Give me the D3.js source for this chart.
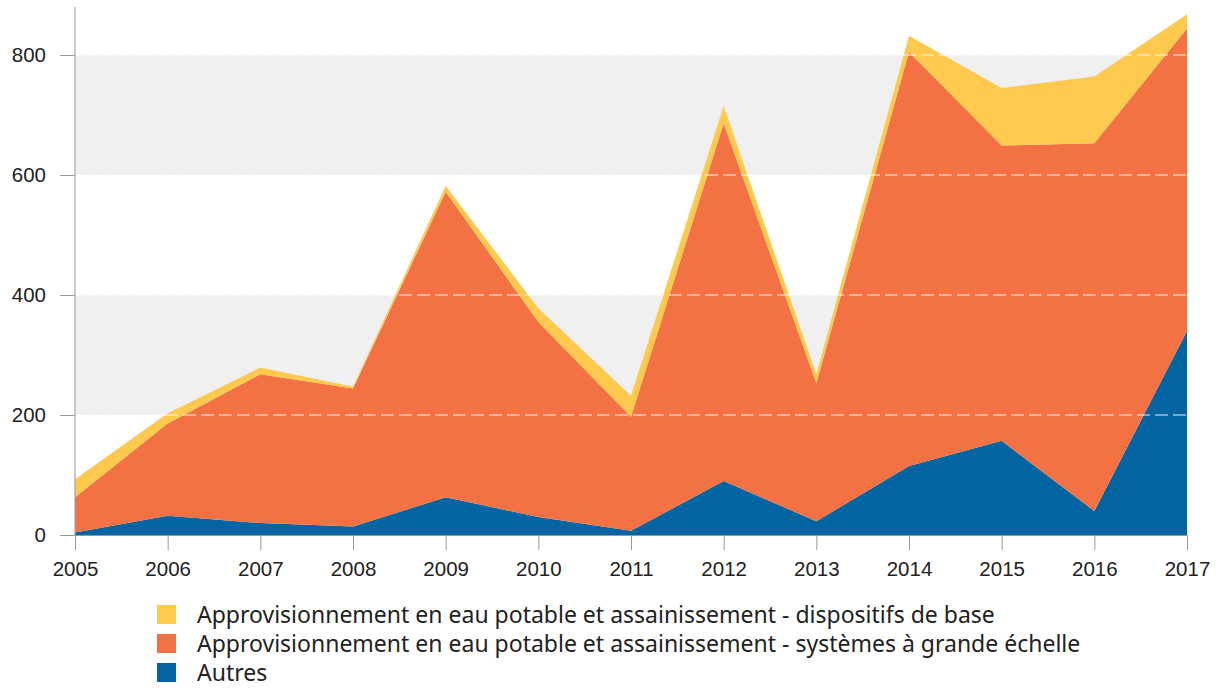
<!DOCTYPE html>
<html>
<head>
<meta charset="UTF-8">
<title>Approvisionnement en eau</title>
<script src="https://cdn.jsdelivr.net/npm/d3@7"></script>
<style>
    body { margin: 0; padding: 0; background: #fff; }
    svg { display: block; font-family: "Noto Sans", "Liberation Sans", Arial, sans-serif; }
</style>
</head>
<body>
<div id="chart"></div>
<script>
// data
var years = [2005, 2006, 2007, 2008, 2009, 2010, 2011, 2012, 2013, 2014, 2015, 2016, 2017];
var autres = [4, 32, 20, 14, 63, 30, 7, 90, 23, 115, 157, 40, 340];
var grandeEchelle = [59, 154, 248, 230, 509, 325, 190, 596, 230, 690, 492, 613, 504];
var dispositifsBase = [30, 17, 11, 3, 10, 23, 35, 29, 15, 27, 96, 111, 24];
var yTicks = [0, 200, 400, 600, 800];
var seriesNames = [
    "Approvisionnement en eau potable et assainissement - dispositifs de base",
    "Approvisionnement en eau potable et assainissement - systèmes à grande échelle",
    "Autres"
];

var colors = {autres: "#0265a1", grande: "#f37142", base: "#ffc94d"};

var svgWidth = 1218, svgHeight = 688;
var svg = d3.select('#chart').append('svg')
    .attr('width', svgWidth)
    .attr('height', svgHeight);

// scales
var x = d3.scaleLinear().domain([2005, 2017]).range([75, 1187]);
var y = d3.scaleLinear().domain([0, 880]).range([535, 7]);

// rows for the stack
var rows = years.map((yr, i) => ({
    year: yr,
    autres: autres[i],
    grande: grandeEchelle[i],
    base: dispositifsBase[i]
}));
var stack = d3.stack().keys(['autres', 'grande', 'base']);
var layers = stack(rows);

// grey bands behind
var bands = [[200, 400], [600, 800]];
svg.append('g').selectAll('rect')
    .data(bands)
    .join('rect')
    .attr('x', x(2005))
    .attr('width', x(2017) - x(2005))
    .attr('y', d => y(d[1]))
    .attr('height', d => y(d[0]) - y(d[1]))
    .attr('fill', '#f0f0f0');

// stacked areas
var area = d3.area()
    .x(d => x(d.data.year))
    .y0(d => y(d[0]))
    .y1(d => y(d[1]));
svg.append('g').selectAll('path')
    .data(layers)
    .join('path')
    .attr('d', area)
    .attr('fill', d => colors[d.key]);

// white dashed gridlines over the areas
svg.append('g').selectAll('line')
    .data(yTicks.slice(1))
    .join('line')
    .attr('x1', x(2005))
    .attr('x2', x(2017))
    .attr('y1', d => y(d))
    .attr('y2', d => y(d))
    .attr('stroke', '#fff')
    .attr('stroke-width', 1)
    .attr('stroke-dasharray', '13,5')
    .attr('opacity', 0.9);

// y axis
var yAxis = svg.append('g')
    .attr('transform', `translate(${x(2005)},0)`)
    .call(d3.axisLeft(y).tickValues(yTicks).tickSize(15).tickPadding(14).tickSizeOuter(0));
yAxis.select('.domain').attr('stroke', '#999').attr('d', `M0,${y(880)}V${y(0)}`);

// x axis
var xAxis = svg.append('g')
    .attr('transform', `translate(0,${y(0)})`)
    .call(d3.axisBottom(x).tickValues(years).tickFormat(d3.format('d')).tickSize(15).tickPadding(11).tickSizeOuter(0));
xAxis.select('.domain').attr('stroke', '#999');

svg.selectAll('.tick line').attr('stroke', '#999');
svg.selectAll('.tick text')
    .attr('fill', '#222')
    .style('font-size', '20.5px');

// legend
var legendColors = [colors.base, colors.grande, colors.autres];
var legend = svg.append('g')
    .selectAll('g')
    .data(seriesNames)
    .join('g')
    .attr('transform', (d, i) => `translate(157,${605 + i * 29})`);
legend.append('rect')
    .attr('width', 19)
    .attr('height', 19)
    .attr('fill', (d, i) => legendColors[i]);
legend.append('text')
    .attr('x', 40)
    .attr('y', 9.5)
    .attr('dy', '0.35em')
    .attr('fill', '#222')
    .style('font-size', '23px')
    .text(d => d);
</script>
</body>
</html>
